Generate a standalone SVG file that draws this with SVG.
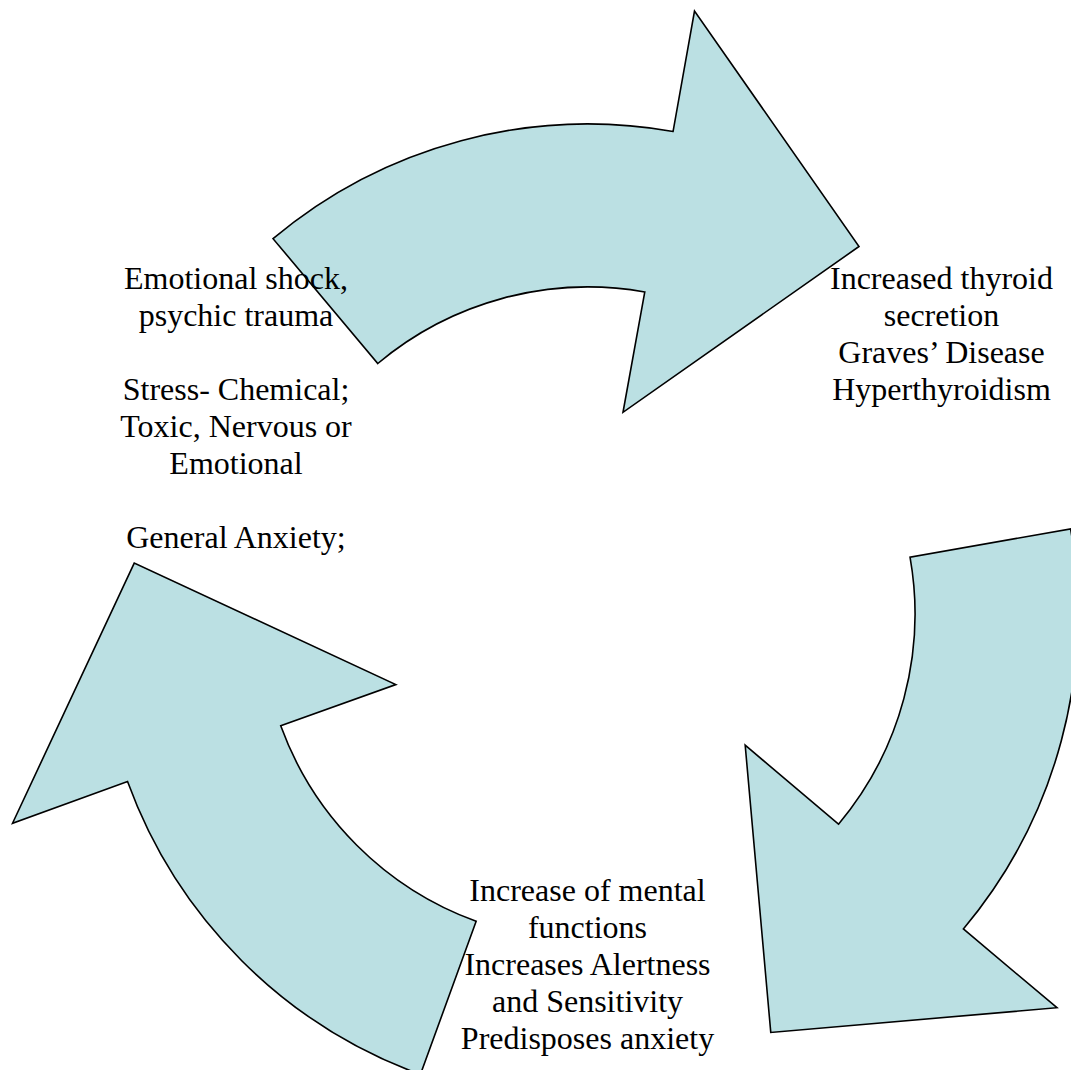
<svg xmlns="http://www.w3.org/2000/svg" width="1071" height="1070" viewBox="0 0 1071 1070">
<style>
.arrow{fill:#BBE0E3;stroke:#000;stroke-width:1.6;stroke-linejoin:miter}
.lbl{font-family:"Liberation Serif","Times New Roman",serif;font-size:32px;fill:#000;text-anchor:middle}
</style>
<rect width="1071" height="1070" fill="#fff"/>
<g id="connectors">
<path id="arrow-top" class="arrow" d="M 273.03 238.64 A 490 490 0 0 1 673.09 131.44 L 694.5 11 L 859 246.5 L 623 412.3 L 644.78 291.97 A 327 327 0 0 0 377.81 363.5 Z"/>
<path id="arrow-right" class="arrow" transform="rotate(120 588 614)" d="M 273.03 238.64 A 490 490 0 0 1 673.09 131.44 L 694.5 11 L 859 246.5 L 623 412.3 L 644.78 291.97 A 327 327 0 0 0 377.81 363.5 Z"/>
<path id="arrow-left" class="arrow" transform="rotate(240 588 614)" d="M 273.03 238.64 A 490 490 0 0 1 673.09 131.44 L 694.5 11 L 859 246.5 L 623 412.3 L 644.78 291.97 A 327 327 0 0 0 377.81 363.5 Z"/>
</g>
<g id="node-causes">
<text class="lbl" x="236" y="289">Emotional shock,</text>
<text class="lbl" x="236" y="326">psychic trauma</text>
<text class="lbl" x="236" y="400">Stress- Chemical;</text>
<text class="lbl" x="236" y="437">Toxic, Nervous or</text>
<text class="lbl" x="236" y="474">Emotional</text>
<text class="lbl" x="236" y="548">General Anxiety;</text>
</g>
<g id="node-thyroid">
<text class="lbl" x="941.5" y="289">Increased thyroid</text>
<text class="lbl" x="941.5" y="326">secretion</text>
<text class="lbl" x="941.5" y="363">Graves’ Disease</text>
<text class="lbl" x="941.5" y="400">Hyperthyroidism</text>
</g>
<g id="node-mental">
<text class="lbl" x="587.5" y="901">Increase of mental</text>
<text class="lbl" x="587.5" y="938">functions</text>
<text class="lbl" x="587.5" y="975">Increases Alertness</text>
<text class="lbl" x="587.5" y="1012">and Sensitivity</text>
<text class="lbl" x="587.5" y="1049">Predisposes anxiety</text>
</g>
</svg>
